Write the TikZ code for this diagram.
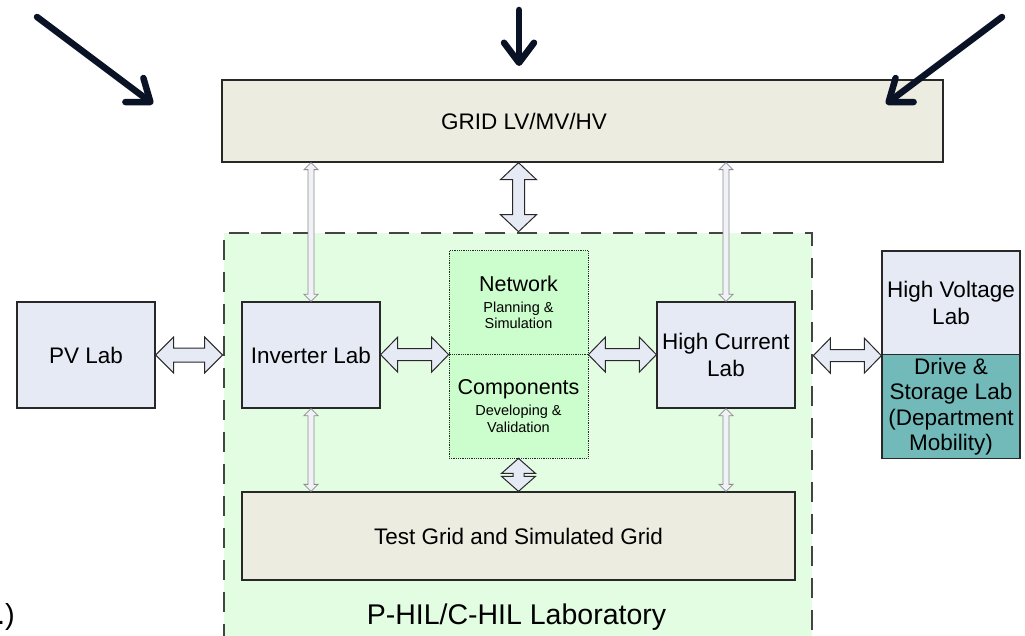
\documentclass[tikz,border=0pt]{standalone}
\usepackage{fontspec}
\setmainfont{Liberation Sans}
\usetikzlibrary{arrows.meta,calc}
\definecolor{gridfill}{RGB}{236,236,224}
\definecolor{boxfill}{RGB}{230,234,245}
\definecolor{labfill}{RGB}{227,253,227}
\definecolor{netfill}{RGB}{204,253,204}
\definecolor{drivefill}{RGB}{114,185,185}
\definecolor{boxline}{RGB}{40,40,40}
\definecolor{dashline}{RGB}{68,68,68}
\definecolor{navy}{RGB}{10,18,38}
\definecolor{thinline}{RGB}{140,140,140}
\definecolor{thinfill}{RGB}{240,242,248}
\tikzset{
  box/.style={draw=boxline, line width=1.3pt, align=center, inner sep=0pt,
    font=\fontsize{22.5}{26.5}\selectfont},
  labbox/.style={draw=dashline, line width=2.6pt, dash pattern=on 20pt off 12pt, fill=labfill},
  netbox/.style={draw=boxline, line width=0.8pt, densely dotted, fill=netfill, align=center,
    inner sep=0pt, font=\fontsize{14.5}{16.5}\selectfont},
  bigarrow/.style={draw=boxline, line width=1pt, fill=boxfill, line join=miter},
  thinarrow/.style={draw=thinline, line width=0.8pt, fill=thinfill, line join=miter},
  navyarrow/.style={draw=navy, line width=6.5pt, line cap=round,
    -{Straight Barb[length=20pt,width=30pt,round]}},
  harr/.style n args={3}{to path={let \p1=(\tikztostart), \p2=(\tikztotarget) in
    (\x1,\y1) -- (\x1+#1,\y1+#2) -- (\x1+#1,\y1+#3) -- (\x2-#1,\y1+#3) -- (\x2-#1,\y1+#2)
    -- (\x2,\y1) -- (\x2-#1,\y1-#2) -- (\x2-#1,\y1-#3) -- (\x1+#1,\y1-#3) -- (\x1+#1,\y1-#2) -- cycle}},
  varr/.style n args={3}{to path={let \p1=(\tikztostart), \p2=(\tikztotarget) in
    (\x1,\y1) -- (\x1+#2,\y1-#1) -- (\x1+#3,\y1-#1) -- (\x1+#3,\y2+#1) -- (\x1+#2,\y2+#1)
    -- (\x1,\y2) -- (\x1-#2,\y2+#1) -- (\x1-#3,\y2+#1) -- (\x1-#3,\y1-#1) -- (\x1-#2,\y1-#1) -- cycle}},
}
\begin{document}
\begin{tikzpicture}[x=1pt,y=-1pt]
\useasboundingbox (0,0) rectangle (1025,636);
\fill[white] (0,0) rectangle (1025,636);

% main blocks
\node[box, fill=gridfill, minimum width=721pt, minimum height=82pt] (grid) at (582.5,121) {};
\node[font=\fontsize{22.5}{26.5}\selectfont] (gridtext) at (524,121) {GRID LV/MV/HV};
\node[labbox, minimum width=588pt, minimum height=417pt] (lab) at (518,441.5) {};
\node[font=\fontsize{28.5}{32}\selectfont, anchor=base] (labtext) at (516.5,624) {P-HIL/C-HIL Laboratory};
\node[anchor=base east, font=\fontsize{29}{32}\selectfont, inner sep=0pt] (cut) at (15,624) {.)};

\node[box, fill=boxfill, minimum width=138pt, minimum height=106pt] (pv) at (86,355) {PV Lab};
\node[box, fill=boxfill, minimum width=138pt, minimum height=106pt] (inv) at (311,355) {Inverter Lab};
\node[box, fill=boxfill, minimum width=138pt, minimum height=106pt] (hc) at (726,355) {High Current\\Lab};
\node[netbox, minimum width=139pt, minimum height=103.5pt] (net) at (518.5,302.5)
  {{\fontsize{21.5}{21.5}\selectfont Network}\\[4pt]Planning \&\\Simulation};
\node[netbox, minimum width=139pt, minimum height=104pt] (comp) at (518.5,406)
  {{\fontsize{21.5}{21.5}\selectfont Components}\\[5pt]Developing \&\\Validation};
\node[box, fill=boxfill, minimum width=138pt, minimum height=104pt] (hv) at (951,303) {High Voltage\\Lab};
\node[box, fill=drivefill, minimum width=138pt, minimum height=103.5pt,
  font=\fontsize{22.5}{25.5}\selectfont] (dr) at (951,406.5)
  {Drive \&\\Storage Lab\\(Department\\Mobility)};
\node[box, fill=gridfill, minimum width=553pt, minimum height=88pt] (test) at (518.5,536)
  {Test Grid and Simulated Grid};

% connectors
\coordinate (pvR) at (pv.east -| lab.west);
\coordinate (hvL) at (hv.south west -| lab.east);
\draw[bigarrow] (pv.east) to[harr={18pt}{18pt}{7pt}] (pvR);
\draw[bigarrow] (inv.east |- net.south) to[harr={17pt}{17.5pt}{6pt}] (net.south west);
\draw[bigarrow] (net.south east) to[harr={17pt}{17.5pt}{6pt}] (hc.west |- net.south);
\draw[bigarrow] (hvL) to[harr={17pt}{17.5pt}{6pt}] (hv.south west);
\draw[bigarrow] (grid.south -| net.north) to[varr={17pt}{18pt}{6pt}] (net.north |- lab.north);
\draw[bigarrow] (comp.south) to[varr={15pt}{17pt}{5.5pt}] (comp.south |- test.north);
\draw[thinarrow] (grid.south -| inv.north) to[varr={7pt}{7pt}{3pt}] (inv.north);
\draw[thinarrow] (grid.south -| hc.north) to[varr={7pt}{7pt}{3pt}] (hc.north);
\draw[thinarrow] (inv.south) to[varr={7pt}{7pt}{3pt}] (inv.south |- test.north);
\draw[thinarrow] (hc.south) to[varr={7pt}{7pt}{3pt}] (hc.south |- test.north);

% incoming arrows
\coordinate (a1s) at (37,17);
\coordinate (a1e) at (153,104);
\coordinate (a2s) at (519,10);
\coordinate (a2e) at (519,66);
\coordinate (a3s) at (1002,17);
\coordinate (a3e) at (886,104);
\draw[navyarrow] (a1s) -- (a1e);
\draw[navyarrow] (a2s) -- (a2e);
\draw[navyarrow] (a3s) -- (a3e);
\end{tikzpicture}
\end{document}
